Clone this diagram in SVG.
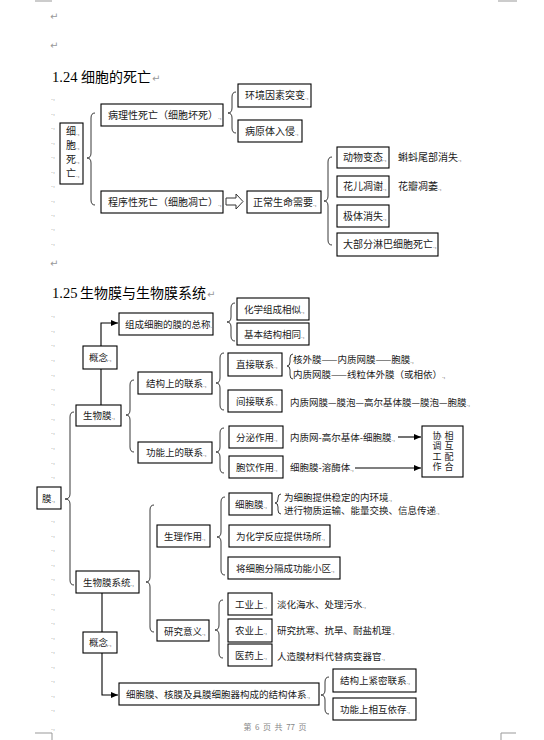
<svg xmlns="http://www.w3.org/2000/svg" width="544" height="740" viewBox="0 0 544 740">
<defs>
<style>
.b{fill:#fff;stroke:#000;stroke-width:1.1}
.t{font-family:"Noto Sans CJK SC","Noto Sans CJK JP",sans-serif;font-size:9.5px;fill:#1a1a1a}
.t1{font-family:"Noto Sans CJK SC","Noto Sans CJK JP",sans-serif;font-size:10px;fill:#1a1a1a}
.tv{font-family:"Noto Sans CJK SC","Noto Sans CJK JP",sans-serif;font-size:9px;fill:#1a1a1a;writing-mode:vertical-rl;letter-spacing:1.5px}
.br{fill:none;stroke:#222;stroke-width:0.9}
.ln{fill:none;stroke:#000;stroke-width:1.1}
.m{font-size:6px;fill:#777}
.pm{font-family:"Liberation Sans",sans-serif;font-size:7px;fill:#999}
.rt{font-family:"DejaVu Sans",sans-serif;font-size:10px;fill:#999}
.ti{font-family:"Liberation Serif","Noto Sans CJK SC",serif;font-size:14.5px;fill:#000}
.tc{font-family:"Noto Sans CJK SC",sans-serif;font-size:14px}
.cm{stroke:#999;stroke-width:1;fill:none}
</style>
<marker id="ah" markerWidth="7" markerHeight="6" refX="7" refY="3" orient="auto" markerUnits="userSpaceOnUse"><path d="M0,0 L7,3 L0,6 z" fill="#000"/></marker>
</defs>
<rect width="544" height="740" fill="#fff"/>
<!-- corner marks -->
<path class="cm" d="M35,1 H52 M498,1 H517 M35,733 H52 V740 M501,740 V733 H516"/>
<!-- paragraph marks -->
<g id="marks">
<text class="rt" x="50" y="20">↵</text>
<text class="rt" x="50" y="49">↵</text>
<text class="rt" x="50" y="267">↵</text>
<text class="pm" x="51" y="100">.,</text><text class="pm" x="51" y="115">.,</text><text class="pm" x="51" y="129">.,</text><text class="pm" x="51" y="144">.,</text><text class="pm" x="51" y="158">.,</text><text class="pm" x="51" y="173">.,</text><text class="pm" x="51" y="187">.,</text><text class="pm" x="51" y="202">.,</text><text class="pm" x="51" y="216">.,</text><text class="pm" x="51" y="230">.,</text><text class="pm" x="51" y="245">.,</text>
<text class="pm" x="51" y="317">.,</text><text class="pm" x="51" y="332">.,</text><text class="pm" x="51" y="346">.,</text><text class="pm" x="51" y="361">.,</text><text class="pm" x="51" y="376">.,</text><text class="pm" x="51" y="390">.,</text><text class="pm" x="51" y="405">.,</text><text class="pm" x="51" y="420">.,</text><text class="pm" x="51" y="434">.,</text><text class="pm" x="51" y="449">.,</text><text class="pm" x="51" y="464">.,</text><text class="pm" x="51" y="478">.,</text><text class="pm" x="51" y="522">.,</text><text class="pm" x="51" y="537">.,</text><text class="pm" x="51" y="551">.,</text><text class="pm" x="51" y="566">.,</text><text class="pm" x="51" y="580">.,</text><text class="pm" x="51" y="595">.,</text><text class="pm" x="51" y="610">.,</text><text class="pm" x="51" y="624">.,</text><text class="pm" x="51" y="639">.,</text><text class="pm" x="51" y="653">.,</text><text class="pm" x="51" y="668">.,</text><text class="pm" x="51" y="682">.,</text><text class="pm" x="51" y="697">.,</text><text class="pm" x="51" y="711">.,</text><text class="pm" x="51" y="730">.,</text>
</g>
<!-- titles -->
<text class="ti" x="52" y="82">1.24<tspan class="tc" x="81">细胞的死亡</tspan><tspan class="rt" dx="1">↵</tspan></text>
<text class="ti" x="52" y="298">1.25<tspan class="tc" x="80">生物膜与生物膜系统</tspan><tspan class="rt" dx="1">↵</tspan></text>

<!-- connectors -->
<g id="connectors">
<path class="br" d="M95,113 Q91,113 91,118 L91,153 Q91,158 87,158 Q91,158 91,163 L91,200 Q91,205 95,205"/>
<path class="br" d="M236,92 Q232,92 232,97 L232,108 Q232,113 228,113 Q232,113 232,118 L232,128 Q232,133 236,133"/>
<path class="br" d="M332,157 Q328,157 328,162 L328,196 Q328,201 324,201 Q328,201 328,206 L328,240 Q328,245 332,245"/>
<path fill="#fff" stroke="#333" stroke-width="1" d="M226,198 H236 V194 L243,201.5 L236,209 V205 H226 Z"/>
<path class="br" d="M74,412 Q70,412 70,417 L70,494 Q70,499 65,499 Q70,499 70,504 L70,580 Q70,585 74,585"/>
<path class="br" d="M235,303 Q231,303 231,308 L231,317 Q231,322 227,322 Q231,322 231,327 L231,336 Q231,341 235,341"/>
<path class="br" d="M134,380 Q130,380 130,385 L130,410 Q130,415 126,415 Q130,415 130,420 L130,447 Q130,452 134,452"/>
<path class="br" d="M224,353 Q220,353 220,358 L220,378 Q220,383 216,383 Q220,383 220,388 L220,405 Q220,410 224,410"/>
<path class="br" d="M293,354 Q290,354 290,358 L290,362 Q290,366 287,366 Q290,366 290,370 L290,375 Q290,379 293,379"/>
<path class="br" d="M224,428 Q220,428 220,433 L220,447 Q220,452 216,452 Q220,452 220,457 L220,468 Q220,473 224,473"/>
<path class="br" d="M154,505 Q150,505 150,510 L150,577 Q150,582 146,582 Q150,582 150,587 L150,627 Q150,632 154,632"/>
<path class="br" d="M225,497 Q221,497 221,502 L221,532 Q221,537 217,537 Q221,537 221,542 L221,570 Q221,575 225,575"/>
<path class="br" d="M281,494 Q278,494 278,498 L278,499 Q278,503 275,503 Q278,503 278,507 L278,510 Q278,514 281,514"/>
<path class="br" d="M223,600 Q219,600 219,605 L219,625 Q219,630 215,630 Q219,630 219,635 L219,653 Q219,658 223,658"/>
<path class="br" d="M329,677 Q325,677 325,682 L325,690 Q325,695 321,695 Q325,695 325,700 L325,709 Q325,714 329,714"/>
<path class="ln" d="M101,405 V323 H118" marker-end="url(#ah)"/>
<path class="ln" d="M102,593 V695 H118" marker-end="url(#ah)"/>
<path class="ln" d="M398,437 H421" marker-end="url(#ah)"/>
<path class="ln" d="M355,468 H421" marker-end="url(#ah)"/>
</g>

<!-- section 1 nodes -->
<g id="n-death"><rect class="b" x="60" y="123" width="23" height="61"/>
<text class="t1"><tspan x="66" y="135">细</tspan><tspan class="m">.,</tspan><tspan x="66" y="149">胞</tspan><tspan class="m">.,</tspan><tspan x="66" y="163">死</tspan><tspan class="m">.,</tspan><tspan x="66" y="177">亡</tspan><tspan class="m">.,</tspan></text></g>
<g id="n-necrosis"><rect class="b" x="101" y="104" width="122" height="22"/><text class="t1" x="108" y="119">病理性死亡（细胞坏死）<tspan class="m">.,</tspan></text></g>
<g id="n-apoptosis"><rect class="b" x="101" y="191" width="122" height="22"/><text class="t1" x="108" y="206">程序性死亡（细胞凋亡）<tspan class="m">.,</tspan></text></g>
<g id="n-env"><rect class="b" x="238" y="84" width="73" height="23"/><text class="t1" x="245" y="99">环境因素突变<tspan class="m">.,</tspan></text></g>
<g id="n-path"><rect class="b" x="238" y="120" width="64" height="22"/><text class="t1" x="245" y="135">病原体入侵<tspan class="m">.,</tspan></text></g>
<g id="n-normal"><rect class="b" x="247" y="191" width="74" height="22"/><text class="t1" x="253" y="206">正常生命需要<tspan class="m">.,</tspan></text></g>
<g id="n-meta"><rect class="b" x="337" y="147" width="52" height="21"/><text class="t1" x="343" y="161">动物变态<tspan class="m">.,</tspan></text><text class="t1" x="398" y="161">蝌蚪尾部消失<tspan class="m">.,</tspan></text></g>
<g id="n-flower"><rect class="b" x="337" y="176" width="52" height="21"/><text class="t1" x="343" y="190">花儿凋谢<tspan class="m">.,</tspan></text><text class="t1" x="398" y="190">花瓣凋萎<tspan class="m">.,</tspan></text></g>
<g id="n-polar"><rect class="b" x="337" y="205" width="52" height="22"/><text class="t1" x="343" y="220">极体消失<tspan class="m">.,</tspan></text></g>
<g id="n-lymph"><rect class="b" x="337" y="233" width="101" height="23"/><text class="t1" x="343" y="248">大部分淋巴细胞死亡<tspan class="m">.,</tspan></text></g>

<!-- section 2 nodes -->
<g id="n-mo"><rect class="b" x="37" y="487" width="24" height="22"/><text class="t" x="42" y="502">膜<tspan class="m">.,</tspan></text></g>
<g id="n-bm"><rect class="b" x="76" y="405" width="45" height="21"/><text class="t" x="83" y="419">生物膜<tspan class="m">.,</tspan></text></g>
<g id="n-bms"><rect class="b" x="76" y="571" width="63" height="22"/><text class="t" x="83" y="586">生物膜系统<tspan class="m">.,</tspan></text></g>
<g id="n-concept1"><rect class="b" x="83" y="346" width="34" height="23"/><text class="t" x="89" y="361">概念<tspan class="m">.,</tspan></text></g>
<g id="n-def1"><rect class="b" x="119" y="313" width="94" height="22"/><text class="t" x="125" y="328">组成细胞的膜的总称<tspan class="m">.,</tspan></text></g>
<g id="n-chem"><rect class="b" x="237" y="298" width="72" height="22"/><text class="t" x="244" y="313">化学组成相似<tspan class="m">.,</tspan></text></g>
<g id="n-struct"><rect class="b" x="237" y="323" width="72" height="22"/><text class="t" x="244" y="338">基本结构相同<tspan class="m">.,</tspan></text></g>
<g id="n-slink"><rect class="b" x="138" y="372" width="74" height="22"/><text class="t" x="146" y="387">结构上的联系<tspan class="m">.,</tspan></text></g>
<g id="n-flink"><rect class="b" x="138" y="442" width="74" height="21"/><text class="t" x="146" y="456">功能上的联系<tspan class="m">.,</tspan></text></g>
<g id="n-direct"><rect class="b" x="228" y="353" width="54" height="23"/><text class="t" x="236" y="368">直接联系<tspan class="m">.,</tspan></text>
<text class="t" x="293" y="363">核外膜——内质网膜——胞膜<tspan class="m">.,</tspan></text>
<text class="t" x="293" y="378">内质网膜——线粒体外膜（或相依）<tspan class="m">.,</tspan></text></g>
<g id="n-indirect"><rect class="b" x="228" y="390" width="54" height="22"/><text class="t" x="236" y="405">间接联系<tspan class="m">.,</tspan></text>
<text class="t" x="290" y="406">内质网膜—膜泡—高尔基体膜—膜泡—胞膜<tspan class="m">.,</tspan></text></g>
<g id="n-secrete"><rect class="b" x="229" y="426" width="54" height="22"/><text class="t" x="236" y="441">分泌作用<tspan class="m">.,</tspan></text>
<text class="t" x="290" y="441">内质网-高尔基体-细胞膜<tspan class="m">.,</tspan></text></g>
<g id="n-pino"><rect class="b" x="229" y="456" width="54" height="22"/><text class="t" x="236" y="471">胞饮作用<tspan class="m">.,</tspan></text>
<text class="t" x="290" y="471">细胞膜-溶酶体<tspan class="m">.,</tspan></text></g>
<g id="n-coop"><rect class="b" x="422" y="426" width="41" height="51"/>
<text class="tv" x="437" y="431">协调工作</text>
<text class="tv" x="449" y="431">相互配合</text></g>
<g id="n-phys"><rect class="b" x="157" y="525" width="53" height="22"/><text class="t" x="164" y="540">生理作用<tspan class="m">.,</tspan></text></g>
<g id="n-cm"><rect class="b" x="229" y="493" width="43" height="22"/><text class="t" x="235" y="508">细胞膜<tspan class="m">.,</tspan></text>
<text class="t" x="284" y="501">为细胞提供稳定的内环境<tspan class="m">.,</tspan></text>
<text class="t" x="284" y="514">进行物质运输、能量交换、信息传递<tspan class="m">.,</tspan></text></g>
<g id="n-site"><rect class="b" x="229" y="525" width="101" height="22"/><text class="t" x="236" y="540">为化学反应提供场所<tspan class="m">.,</tspan></text></g>
<g id="n-comp"><rect class="b" x="228" y="557" width="112" height="22"/><text class="t" x="236" y="572">将细胞分隔成功能小区<tspan class="m">.,</tspan></text></g>
<g id="n-res"><rect class="b" x="157" y="620" width="52" height="21"/><text class="t" x="164" y="634.5">研究意义<tspan class="m">.,</tspan></text></g>
<g id="n-ind"><rect class="b" x="228" y="593" width="44" height="22"/><text class="t" x="235" y="608">工业上<tspan class="m">.,</tspan></text>
<text class="t" x="277" y="608">淡化海水、处理污水<tspan class="m">.,</tspan></text></g>
<g id="n-agr"><rect class="b" x="228" y="619" width="44" height="23"/><text class="t" x="235" y="634">农业上<tspan class="m">.,</tspan></text>
<text class="t" x="277" y="634">研究抗寒、抗旱、耐盐机理<tspan class="m">.,</tspan></text></g>
<g id="n-med"><rect class="b" x="228" y="644" width="44" height="22"/><text class="t" x="235" y="659">医药上<tspan class="m">.,</tspan></text>
<text class="t" x="277" y="660">人造膜材料代替病变器官<tspan class="m">.,</tspan></text></g>
<g id="n-concept2"><rect class="b" x="83" y="632" width="34" height="21"/><text class="t" x="89" y="646">概念<tspan class="m">.,</tspan></text></g>
<g id="n-def2"><rect class="b" x="119" y="683" width="200" height="22"/><text class="t" x="126" y="698">细胞膜、核膜及具膜细胞器构成的结构体系<tspan class="m">.,</tspan></text></g>
<g id="n-close"><rect class="b" x="333" y="669" width="83" height="23"/><text class="t" x="340" y="684">结构上紧密联系<tspan class="m">.,</tspan></text></g>
<g id="n-depend"><rect class="b" x="333" y="698" width="83" height="22"/><text class="t" x="340" y="713">功能上相互依存<tspan class="m">.,</tspan></text></g>

<text x="275" y="730" text-anchor="middle" font-family="Noto Sans CJK SC,sans-serif" font-size="8" fill="#888" xml:space="preserve">第  6  页  共  77  页</text>
</svg>
